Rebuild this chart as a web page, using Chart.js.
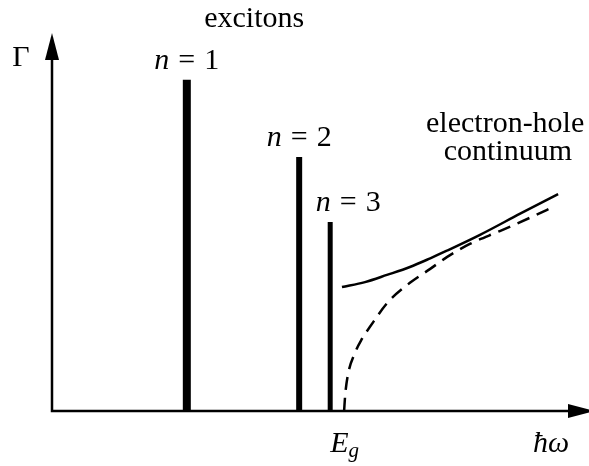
<!DOCTYPE html>
<html>
<head>
<meta charset="utf-8">
<script src="https://cdn.jsdelivr.net/npm/chart.js@4/dist/chart.umd.min.js"></script>
<style>
  body { margin: 0; background: #fff; }
  #wrap { width: 589px; height: 466px; }
</style>
</head>
<body>
<div id="wrap"><canvas id="spettro" width="589" height="466"></canvas></div>
<script>
// Righe eccitoniche: energia (ħω) e intensità Γ, unità arbitrarie
const peakLabels = ["1", "2", "3"];
const peakEnergy = [2.52, 4.62, 5.20];
const peakGamma = [8.76, 6.72, 5.00];

// Gap di banda
const gapEnergy = 5.47;

// Continuo elettrone-lacuna con interazione coulombiana (linea continua)
const contEnergy = [5.42, 5.85, 6.26, 6.69, 7.07, 7.38, 8.00, 8.75, 9.46];
const contGamma  = [3.28, 3.41, 3.60, 3.81, 4.04, 4.24, 4.66, 5.22, 5.74];

// Continuo senza interazione (tratteggiato)
const freeEnergy = [5.46, 5.48, 5.53, 5.66, 5.79, 5.94, 6.28, 6.69, 7.07, 7.38, 7.81, 8.37, 8.93, 9.40];
const freeGamma  = [0.00, 0.42, 0.95, 1.53, 1.90, 2.22, 2.88, 3.39, 3.76, 4.07, 4.42, 4.76, 5.11, 5.42];

const peakThickness = [8, 6, 5];

const serif = '"Liberation Serif", "DejaVu Serif", serif';

function toPoints(xs, ys) {
    return xs.map((v, i) => ({ x: v, y: ys[i] }));
}

// scrive una sequenza di pezzi di testo (corsivo/tondo, pedici)
function drawRuns(ctx, runs, x, y, align) {
    let total = 0;
    runs.forEach(r => {
        ctx.font = (r.italic ? "italic " : "") + (r.size || 30) + "px " + serif;
        r.w = ctx.measureText(r.text).width;
        total += r.w + (r.gap || 0);
    });
    let cx = align === "center" ? x - total / 2 : x;
    runs.forEach(r => {
        ctx.font = (r.italic ? "italic " : "") + (r.size || 30) + "px " + serif;
        ctx.fillText(r.text, cx, y + (r.dy || 0));
        cx += r.w + (r.gap || 0);
    });
}

// assi con frecce
const assi = {
    id: "assi",
    beforeDatasetsDraw(chart) {
        const { ctx, chartArea, scales: { x, y } } = chart;
        const x0 = x.getPixelForValue(0);
        const y0 = y.getPixelForValue(0);
        const tipX = chartArea.right + 8;
        const tipY = chartArea.top;
        ctx.save();
        ctx.strokeStyle = "#000";
        ctx.fillStyle = "#000";
        ctx.lineWidth = 2.5;
        ctx.beginPath();
        ctx.moveTo(x0, y0);
        ctx.lineTo(tipX - 20, y0);
        ctx.moveTo(x0, y0 + 1.25);
        ctx.lineTo(x0, tipY + 20);
        ctx.stroke();
        // punta asse x
        ctx.beginPath();
        ctx.moveTo(tipX, y0);
        ctx.lineTo(tipX - 27, y0 - 7);
        ctx.lineTo(tipX - 27, y0 + 7);
        ctx.closePath();
        ctx.fill();
        // punta asse y
        ctx.beginPath();
        ctx.moveTo(x0, tipY);
        ctx.lineTo(x0 - 7, tipY + 27);
        ctx.lineTo(x0 + 7, tipY + 27);
        ctx.closePath();
        ctx.fill();
        ctx.restore();
    }
};

// etichette
const etichette = {
    id: "etichette",
    afterDraw(chart) {
        const { ctx, scales: { x, y } } = chart;
        const x0 = x.getPixelForValue(0);
        const y0 = y.getPixelForValue(0);
        ctx.save();
        ctx.fillStyle = "#000";
        ctx.textAlign = "left";
        ctx.textBaseline = "alphabetic";

        drawRuns(ctx, [{ text: "Γ" }], x0 - 31, y.getPixelForValue(9.13), "center");
        drawRuns(ctx, [{ text: "excitons" }], x.getPixelForValue(3.78), y.getPixelForValue(10.16), "center");
        drawRuns(ctx, [{ text: "electron-hole" }], x.getPixelForValue(8.47), y.getPixelForValue(7.38), "center");
        drawRuns(ctx, [{ text: "continuum" }], x.getPixelForValue(8.52), y.getPixelForValue(6.64), "center");

        const shift = [0, 0, 18];
        peakLabels.forEach((lab, i) => {
            const px = x.getPixelForValue(peakEnergy[i]) + shift[i];
            const py = y.getPixelForValue(peakGamma[i]) - 11;
            drawRuns(ctx, [
                { text: "n", italic: true, gap: 9 },
                { text: "=", gap: 9 },
                { text: lab }
            ], px, py, "center");
        });

        drawRuns(ctx, [
            { text: "E", italic: true },
            { text: "g", italic: true, size: 21, dy: 5 }
        ], x.getPixelForValue(gapEnergy), y0 + 41, "center");
        drawRuns(ctx, [{ text: "ħω", italic: true }], x.getPixelForValue(9.33), y0 + 41, "center");
        ctx.restore();
    }
};

const datasets = peakEnergy.map((e, i) => ({
    label: "n = " + peakLabels[i],
    data: [{ x: e, y: 0 }, { x: e, y: peakGamma[i] }],
    borderColor: "#000",
    borderWidth: peakThickness[i],
    borderCapStyle: "butt",
    pointRadius: 0
}));

datasets.push({
    label: "continuo",
    data: toPoints(contEnergy, contGamma),
    borderColor: "#000",
    borderWidth: 2.5,
    cubicInterpolationMode: "monotone",
    pointRadius: 0
});

datasets.push({
    label: "continuo libero",
    data: toPoints(freeEnergy, freeGamma),
    borderColor: "#000",
    borderWidth: 2.5,
    borderDash: [13, 8],
    cubicInterpolationMode: "monotone",
    pointRadius: 0
});

const ctx = document.getElementById("spettro").getContext("2d");
new Chart(ctx, {
    type: "line",
    data: { datasets: datasets },
    options: {
        responsive: false,
        animation: false,
        layout: { padding: { left: 52, right: 2, top: 33, bottom: 55 } },
        plugins: { legend: { display: false }, tooltip: { enabled: false } },
        scales: {
            x: { type: "linear", min: 0, max: 10, display: false },
            y: { type: "linear", min: 0, max: 10, display: false }
        }
    },
    plugins: [assi, etichette]
});
</script>
</body>
</html>
